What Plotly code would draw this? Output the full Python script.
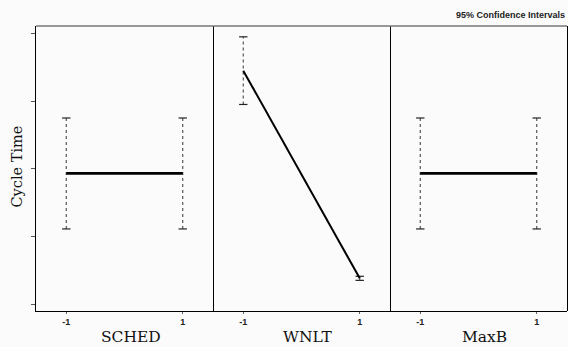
import plotly.graph_objects as go
from plotly.subplots import make_subplots

factors = ["SCHED", "WNLT", "MaxB"]
levels = [-1, 1]
means = {"SCHED": [1.93, 1.93], "WNLT": [3.45, 0.38], "MaxB": [1.93, 1.93]}
errs = {"SCHED": [0.82, 0.82], "WNLT": [0.50, 0.03], "MaxB": [0.82, 0.82]}
ytick_vals = [0, 1, 2, 3, 4]

fig = make_subplots(rows=1, cols=3, shared_yaxes=True, horizontal_spacing=0)

for i, f in enumerate(factors, start=1):
    m = means[f]
    e = errs[f]
    for x, mv, ev in zip(levels, m, e):
        fig.add_trace(go.Scatter(
            x=[x, x], y=[mv - ev, mv + ev], mode="lines+markers",
            line=dict(color="#555", width=1.2, dash="dot"),
            marker=dict(symbol="line-ew", size=6, line=dict(color="#222", width=1.2)),
            showlegend=False, hoverinfo="skip"), row=1, col=i)
    fig.add_trace(go.Scatter(
        x=levels, y=m, mode="lines",
        line=dict(color="black", width=2.8 if m[0] == m[1] else 2),
        showlegend=False), row=1, col=i)
    fig.update_xaxes(
        range=[-1.52, 1.52], tickvals=levels, ticktext=["<b>-1</b>", "<b>1</b>"],
        showline=True, linecolor="black", linewidth=1, mirror=False,
        ticks="outside", ticklen=2, tickcolor="#666", showgrid=False, zeroline=False,
        tickfont=dict(family="Liberation Sans", size=9, color="#222"),
        automargin=False, row=1, col=i)
    xd = fig.layout[f"xaxis{'' if i == 1 else i}"].domain
    fig.add_annotation(text=f, xref="paper", yref="paper", x=(xd[0] + xd[1]) / 2, y=0,
                       xanchor="center", yanchor="bottom", xshift=6, yshift=-36, borderpad=0,
                       showarrow=False,
                       font=dict(family="DejaVu Serif", size=15.5, color="#111"))
    if i > 1:
        fig.add_shape(type="line", xref="paper", yref="paper", xsizemode="pixel",
                      xanchor=xd[0], x0=0.5, x1=0.5, y0=0, y1=1,
                      line=dict(color="black", width=1))
    fig.update_yaxes(
        range=[-0.103, 4.11], tickvals=ytick_vals, showticklabels=False,
        showline=(i == 1), linecolor="black", linewidth=1, mirror=False,
        showgrid=False, zeroline=False, automargin=False, row=1, col=i)

fig.update_yaxes(ticks="outside", ticklen=4, tickcolor="#555", row=1, col=1)
fig.add_annotation(text="Cycle Time", xref="paper", yref="paper", x=0, y=0.5,
                   xanchor="right", yanchor="middle", xshift=-10, yshift=2, textangle=-90,
                   showarrow=False,
                   font=dict(family="DejaVu Serif", size=14.5, color="#111"))

fig.add_shape(type="line", xref="paper", yref="paper", xsizemode="pixel",
              xanchor=1, x0=0.5, x1=0.5, y0=0, y1=1,
              line=dict(color="black", width=1))
fig.add_shape(type="line", xref="paper", yref="paper", x0=0, x1=1, y0=1, y1=1,
              line=dict(color="#777", width=1.5))

fig.add_annotation(text="<b>95% Confidence Intervals</b>", xref="paper", yref="paper",
                   x=1, y=1, xanchor="right", yanchor="bottom", yshift=4, showarrow=False,
                   font=dict(family="Liberation Sans", size=9, color="#222"))

fig.update_layout(
    width=568, height=347,
    margin=dict(l=36, r=1, t=26, b=36),
    paper_bgcolor="#fbfbfb", plot_bgcolor="#fbfbfb",
)

fig.write_html("out.html", config={"displayModeBar": False},
               post_script="document.body.style.margin='0';")
